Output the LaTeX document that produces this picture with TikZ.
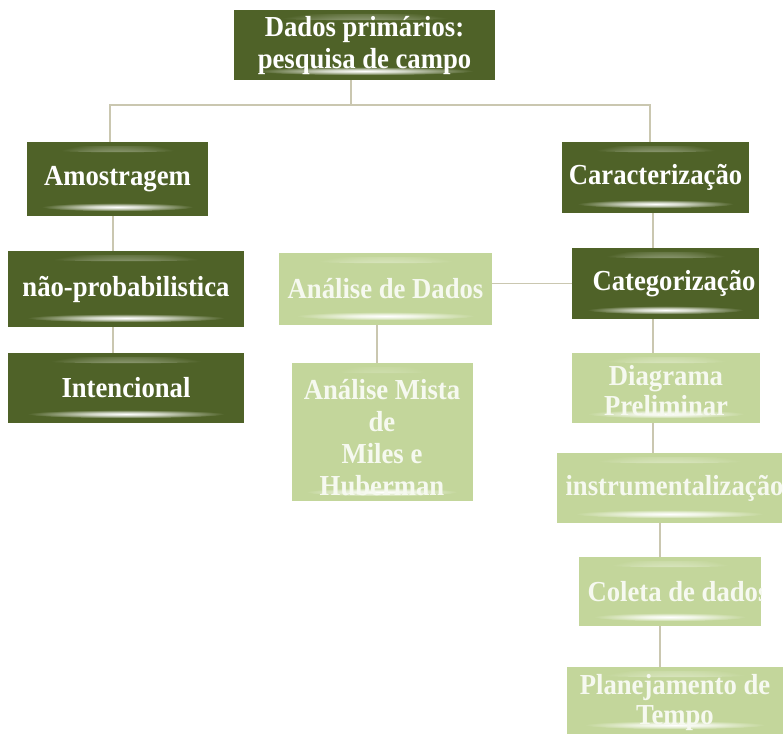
\documentclass[tikz,border=0pt]{standalone}
\usepackage{fontspec}
\setmainfont{Liberation Serif}[FakeStretch=0.92]
\usetikzlibrary{calc}

\definecolor{olivedark}{RGB}{79,98,40}
\definecolor{olivelight}{RGB}{195,214,155}
\definecolor{linkgray}{RGB}{202,199,176}
\definecolor{paletext}{RGB}{246,249,240}

% soft white streaks for the glossy boxes
\pgfdeclareradialshading{glowdark}{\pgfpointorigin}{color(0bp)=(white); color(9bp)=(white!75!olivedark); color(25bp)=(olivedark); color(50bp)=(olivedark)}
\pgfdeclareradialshading{glowlight}{\pgfpointorigin}{color(0bp)=(white); color(9bp)=(white!75!olivelight); color(25bp)=(olivelight); color(50bp)=(olivelight)}

\tikzset{
  x=1pt, y=-1pt,
  glossy/.style={path picture={
    \shade[shading=#1] let \p1=(path picture bounding box.south west),
      \p2=(path picture bounding box.north east), \n1={0.42*abs(\x2-\x1)} in
      ([yshift=-7pt]path picture bounding box.north) ellipse [x radius=\n1, y radius=3.2pt];
    \shade[shading=#1] let \p1=(path picture bounding box.south west),
      \p2=(path picture bounding box.north east), \n1={0.42*abs(\x2-\x1)} in
      ([yshift=9pt]path picture bounding box.south) ellipse [x radius=\n1, y radius=4.2pt];
  }},
  darkbox/.style={rectangle, inner sep=0pt, fill=olivedark, glossy=glowdark},
  lightbox/.style={rectangle, inner sep=0pt, fill=olivelight, glossy=glowlight},
  darktext/.style={inner sep=0pt, align=center, text=white,
    font=\bfseries\fontsize{29}{32}\selectfont},
  lighttext/.style={darktext, text=paletext},
  link/.style={draw=linkgray, line width=1.8pt},
}

\begin{document}
\begin{tikzpicture}
\fill[white] (0,0) rectangle (784,734);
\useasboundingbox (0,0) rectangle (784,734);

% boxes
\node[darkbox, minimum width=261pt, minimum height=70pt] (top) at (364.5,45) {};
\node[darkbox, minimum width=181pt, minimum height=74pt] (amo) at (117.5,179) {};
\node[darkbox, minimum width=236pt, minimum height=76pt] (nao) at (126,289) {};
\node[darkbox, minimum width=236pt, minimum height=70pt] (inte) at (126,388) {};
\node[lightbox, minimum width=213pt, minimum height=72pt] (ana) at (385.5,289) {};
\node[lightbox, minimum width=181pt, minimum height=138pt] (mista) at (382,432) {};
\node[darkbox, minimum width=187pt, minimum height=71pt] (cara) at (655.5,177.5) {};
\node[darkbox, minimum width=187pt, minimum height=71pt] (cat) at (665.5,283.5) {};
\node[lightbox, minimum width=188pt, minimum height=70pt] (diag) at (666,388) {};
\node[lightbox, minimum width=225pt, minimum height=70pt] (instr) at (669.5,488) {};
\node[lightbox, minimum width=182pt, minimum height=69pt] (coleta) at (670,591.5) {};
\node[lightbox, minimum width=216pt, minimum height=67pt] (plan) at (675,700.5) {};

% labels, each kept inside its own box
\begin{scope}
  \clip (top.south west) rectangle (top.north east);
  \node[darktext] (topT) at ([yshift=-1pt]top.center) {Dados primários:\\pesquisa de campo};
\end{scope}
\begin{scope}
  \clip (amo.south west) rectangle (amo.north east);
  \node[darktext] (amoT) at (amo.center) {Amostragem};
\end{scope}
\begin{scope}
  \clip (nao.south west) rectangle (nao.north east);
  \node[darktext] (naoT) at (nao.center) {não-probabilistica};
\end{scope}
\begin{scope}
  \clip (inte.south west) rectangle (inte.north east);
  \node[darktext] (inteT) at (inte.center) {Intencional};
\end{scope}
\begin{scope}
  \clip (ana.south west) rectangle (ana.north east);
  \node[lighttext] (anaT) at (ana.center) {Análise de Dados};
\end{scope}
\begin{scope}
  \clip (mista.south west) rectangle (mista.north east);
  \node[lighttext] (mistaT) at ([yshift=-6pt]mista.center) {Análise Mista\\de\\Miles e\\Huberman};
\end{scope}
\begin{scope}
  \clip (cara.south west) rectangle (cara.north east);
  \node[darktext] (caraT) at (cara.center) {Caracterização};
\end{scope}
\begin{scope}
  \clip (cat.south west) rectangle (cat.north east);
  \node[darktext] (catT) at ([xshift=8.5pt]cat.center) {Categorização};
\end{scope}
\begin{scope}
  \clip (diag.south west) rectangle (diag.north east);
  \node[lighttext, font=\bfseries\fontsize{29}{30}\selectfont] (diagT) at ([yshift=-3pt]diag.center) {Diagrama\\Preliminar};
\end{scope}
\begin{scope}
  \clip (instr.south west) rectangle (instr.north east);
  \node[lighttext] (instrT) at ([xshift=5pt]instr.center) {instrumentalização};
\end{scope}
\begin{scope}
  \clip (coleta.south west) rectangle (coleta.north east);
  \node[lighttext] (coletaT) at ([xshift=8pt]coleta.center) {Coleta de dados};
\end{scope}
\begin{scope}
  \clip (plan.south west) rectangle (plan.north east);
  \node[lighttext, font=\bfseries\fontsize{29}{30}\selectfont] (planT) at ([yshift=-2pt]plan.center) {Planejamento de\\Tempo};
\end{scope}

% connectors
\coordinate (hubT) at (351,105);
\coordinate (hubL) at (110,105);
\coordinate (hubR) at (650,105);
\coordinate (colA) at (113,0);
\coordinate (colM) at (377,0);
\coordinate (colR) at (653,0);
\coordinate (colS) at (660,0);

\draw[link] (hubT |- top.south) -- (hubT);
\draw[link] (hubL |- amo.north) -- (hubL) -- (hubR) -- (hubR |- cara.north);
\draw[link] (colA |- amo.south) -- (colA |- nao.north);
\draw[link] (colA |- nao.south) -- (colA |- inte.north);
\draw[link] (colM |- ana.south) -- (colM |- mista.north);
\draw[link] (cat.west) -- (cat.west -| ana.east);
\draw[link] (colR |- cara.south) -- (colR |- cat.north);
\draw[link] (colR |- cat.south) -- (colR |- diag.north);
\draw[link] (colR |- diag.south) -- (colR |- instr.north);
\draw[link] (colS |- instr.south) -- (colS |- coleta.north);
\draw[link] (colS |- coleta.south) -- (colS |- plan.north);
\end{tikzpicture}
\end{document}
